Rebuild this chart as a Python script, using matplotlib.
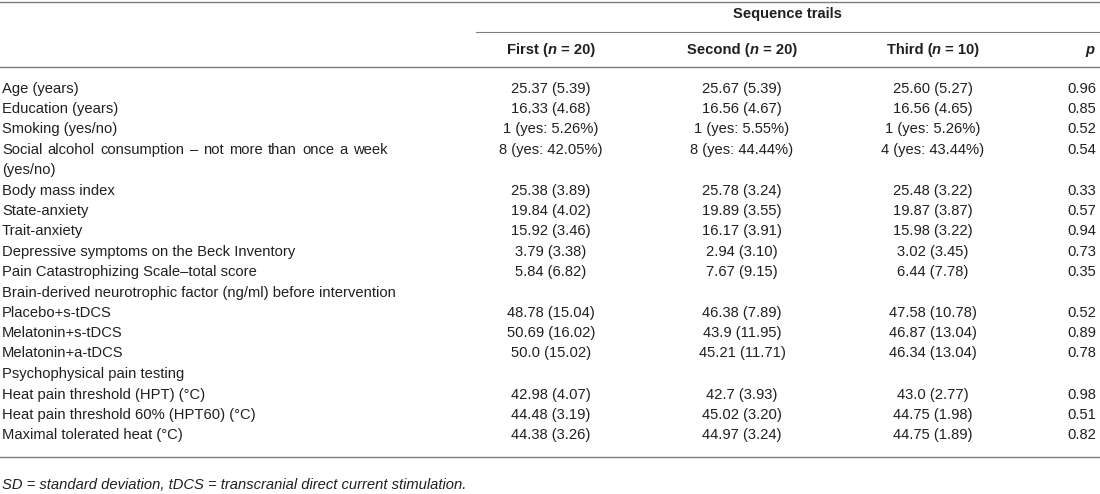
import matplotlib.pyplot as plt

# table content
row_labels = [
    "Age (years)",
    "Education (years)",
    "Smoking (yes/no)",
    "Social alcohol consumption \u2013 not more than once a week\n(yes/no)",
    "Body mass index",
    "State-anxiety",
    "Trait-anxiety",
    "Depressive symptoms on the Beck Inventory",
    "Pain Catastrophizing Scale\u2013total score",
    "Brain-derived neurotrophic factor (ng/ml) before intervention",
    "Placebo+s-tDCS",
    "Melatonin+s-tDCS",
    "Melatonin+a-tDCS",
    "Psychophysical pain testing",
    "Heat pain threshold (HPT) (\u00b0C)",
    "Heat pain threshold 60% (HPT60) (\u00b0C)",
    "Maximal tolerated heat (\u00b0C)",
]
first = ["25.37 (5.39)", "16.33 (4.68)", "1 (yes: 5.26%)", "8 (yes: 42.05%)",
         "25.38 (3.89)", "19.84 (4.02)", "15.92 (3.46)", "3.79 (3.38)", "5.84 (6.82)", "",
         "48.78 (15.04)", "50.69 (16.02)", "50.0 (15.02)", "",
         "42.98 (4.07)", "44.48 (3.19)", "44.38 (3.26)"]
second = ["25.67 (5.39)", "16.56 (4.67)", "1 (yes: 5.55%)", "8 (yes: 44.44%)",
          "25.78 (3.24)", "19.89 (3.55)", "16.17 (3.91)", "2.94 (3.10)", "7.67 (9.15)", "",
          "46.38 (7.89)", "43.9 (11.95)", "45.21 (11.71)", "",
          "42.7 (3.93)", "45.02 (3.20)", "44.97 (3.24)"]
third = ["25.60 (5.27)", "16.56 (4.65)", "1 (yes: 5.26%)", "4 (yes: 43.44%)",
         "25.48 (3.22)", "19.87 (3.87)", "15.98 (3.22)", "3.02 (3.45)", "6.44 (7.78)", "",
         "47.58 (10.78)", "46.87 (13.04)", "46.34 (13.04)", "",
         "43.0 (2.77)", "44.75 (1.98)", "44.75 (1.89)"]
p_values = ["0.96", "0.85", "0.52", "0.54", "0.33", "0.57", "0.94", "0.73", "0.35", "",
            "0.52", "0.89", "0.78", "", "0.98", "0.51", "0.82"]
row_y = [89, 109, 129, 150, 191, 211, 231, 252, 272, 293, 313, 333, 353, 374, 395, 415, 435]

group_title = "Sequence trails"
col_names = ["First", "Second", "Third"]
col_n = ["20", "20", "10"]
footnote = "SD = standard deviation, tDCS = transcranial direct current stimulation."

plt.rcParams['font.family'] = ['Liberation Sans', 'DejaVu Sans']
ink = '#231f20'
rule = '#7f7f7f'
fs = 10.6

fig = plt.figure(figsize=(11, 4.94), dpi=100)
ax = fig.add_axes([0, 0, 1, 1])
ax.set_xlim(0, 1100)
ax.set_ylim(494, 0)
ax.axis('off')
renderer = fig.canvas.get_renderer()


def text_width(t):
    bb = t.get_window_extent(renderer=renderer)
    return bb.width


def draw_runs(xc, y, runs):
    # runs of (string, weight, style), drawn side by side and centred on xc
    pieces = []
    for s, w, st in runs:
        t = ax.text(0, y, s, ha='left', va='center', fontsize=fs, color=ink,
                    fontweight=w, fontstyle=st)
        pieces.append(t)
    widths = [text_width(t) for t in pieces]
    x = xc - sum(widths) / 2
    for t, w in zip(pieces, widths):
        t.set_x(x)
        x += w


def draw_justified(x0, x1, y, line):
    words = line.split(" ")
    texts = [ax.text(0, y, w, ha='left', va='center', fontsize=fs, color=ink) for w in words]
    widths = [text_width(t) for t in texts]
    gap = (x1 - x0 - sum(widths)) / (len(words) - 1)
    x = x0
    for t, w in zip(texts, widths):
        t.set_x(x)
        x += w + gap


# rules
ax.plot([0, 1100], [2.5, 2.5], color=rule, lw=1)
ax.plot([476, 1100], [32, 32], color=rule, lw=0.8)
ax.plot([0, 1100], [67, 67], color=rule, lw=1)
ax.plot([0, 1100], [457, 457], color=rule, lw=1)

ax.text(787, 14, group_title, ha='center', va='center', fontsize=fs,
        fontweight='bold', color=ink)
col_x = [551, 742, 933]
for x, name, n in zip(col_x, col_names, col_n):
    draw_runs(x, 50, [(name + " (", 'bold', 'normal'), ("n", 'bold', 'italic'),
                      (" = " + n + ")", 'bold', 'normal')])
ax.text(1094, 50, "p", ha='right', va='center', fontsize=fs, color=ink,
        fontweight='bold', fontstyle='italic')

for i, y in enumerate(row_y):
    label = row_labels[i]
    if "\n" in label:
        top, bottom = label.split("\n")
        draw_justified(2, 388, y, top)
        ax.text(2, y + 20, bottom, ha='left', va='center', fontsize=fs, color=ink)
    else:
        ax.text(2, y, label, ha='left', va='center', fontsize=fs, color=ink)
    for x, col in zip(col_x, [first, second, third]):
        ax.text(x, y, col[i], ha='center', va='center', fontsize=fs, color=ink)
    ax.text(1096, y, p_values[i], ha='right', va='center', fontsize=fs, color=ink)

ax.text(2, 485, footnote, ha='left', va='center', fontsize=fs, style='italic', color=ink)

fig.savefig("out.png", dpi=100)
